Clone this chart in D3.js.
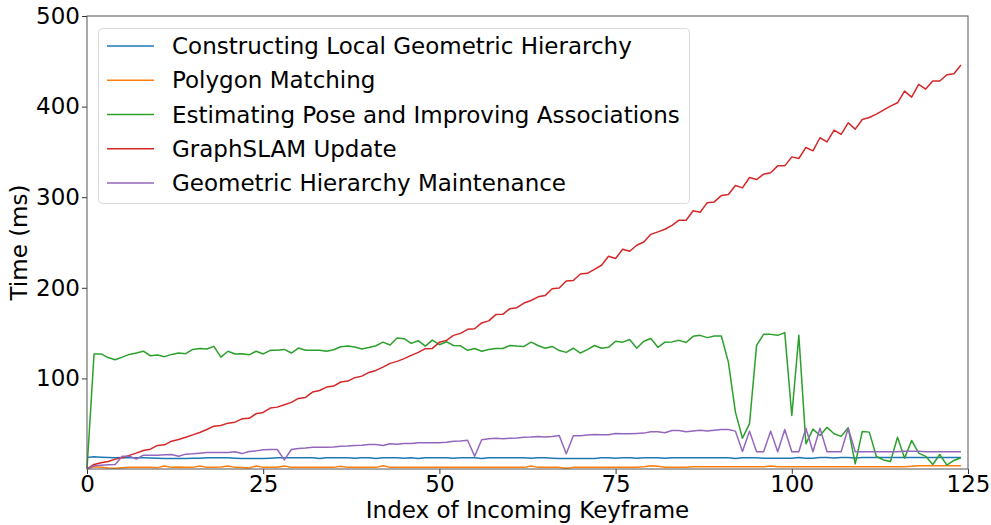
<!DOCTYPE html>
<html>
<head>
<meta charset="utf-8">
<script src="https://cdn.jsdelivr.net/npm/d3@7/dist/d3.min.js"></script>
<style>
  html, body { margin: 0; padding: 0; background: #fff; }
  svg { display: block; font-family: "DejaVu Sans", sans-serif; }
</style>
</head>
<body>
<svg id="chart" width="991" height="525"></svg>
<script>
// Per-keyframe timing (ms) for each stage of the pipeline
const seriesNames = [
  "Constructing Local Geometric Hierarchy",
  "Polygon Matching",
  "Estimating Pose and Improving Associations",
  "GraphSLAM Update",
  "Geometric Hierarchy Maintenance"
];
const seriesColors = ["#1f77b4", "#ff7f0e", "#2ca02c", "#d62728", "#9467bd"];

const constructing = [
  12.7, 13.4, 13.0, 12.7, 12.4, 12.7, 12.4, 12.4, 12.4, 12.2,
  12.0, 11.6, 11.6, 11.6, 11.6, 11.8, 12.0, 12.4, 12.4, 12.4,
  12.4, 12.0, 11.6, 11.6, 11.6, 11.6, 12.0, 12.4, 12.4, 12.4,
  12.4, 12.4, 12.4, 11.6, 12.4, 12.4, 12.4, 12.4, 12.0, 12.4,
  12.4, 11.6, 12.4, 12.4, 12.4, 11.8, 12.4, 11.6, 12.4, 12.4,
  12.4, 12.4, 11.8, 12.4, 12.4, 12.4, 11.6, 12.4, 12.4, 12.4,
  12.4, 12.4, 12.4, 12.0, 12.4, 12.4, 12.0, 11.5, 11.5, 11.5,
  11.5, 11.5, 11.5, 12.4, 12.4, 12.0, 12.4, 12.4, 12.0, 12.4,
  12.4, 12.4, 11.8, 12.4, 12.4, 12.4, 12.4, 12.4, 12.4, 12.4,
  12.4, 12.4, 11.6, 12.4, 12.4, 12.4, 12.0, 12.0, 12.0, 12.0,
  12.0, 12.6, 12.0, 12.0, 12.6, 12.6, 12.2, 12.6, 12.6, 12.2,
  12.6, 12.6, 12.6, 12.6, 12.6, 12.6, 12.6, 12.6, 12.6, 12.6,
  12.6, 12.6, 12.6, 12.6, 12.6
];

const polygonMatching = [
  0.5, 2.5, 2.0, 1.0, 0.8, 1.5, 1.8, 1.8, 1.8, 1.8,
  1.5, 3.4, 1.8, 2.2, 1.8, 1.8, 3.3, 1.8, 1.8, 2.2,
  3.4, 1.8, 1.6, 1.0, 3.3, 1.8, 1.8, 2.0, 3.2, 1.8,
  1.8, 1.8, 1.8, 2.0, 1.8, 1.8, 3.0, 1.8, 1.8, 1.8,
  1.8, 1.8, 3.6, 1.8, 1.8, 1.8, 1.8, 1.8, 1.8, 1.8,
  1.8, 1.8, 1.8, 1.8, 1.8, 1.8, 1.8, 1.8, 1.8, 1.8,
  1.8, 1.8, 1.8, 3.2, 1.8, 1.8, 1.8, 1.8, 0.8, 1.8,
  1.8, 1.8, 1.8, 1.8, 1.8, 1.8, 1.8, 1.8, 1.8, 2.6,
  3.7, 3.0, 2.0, 2.0, 2.0, 2.0, 2.6, 2.6, 2.6, 2.6,
  2.6, 2.6, 2.6, 2.6, 2.6, 2.6, 2.6, 3.2, 2.6, 2.6,
  2.6, 2.6, 2.6, 2.6, 2.6, 2.6, 2.6, 2.6, 2.6, 2.6,
  2.6, 2.6, 2.6, 2.6, 2.6, 2.6, 2.6, 3.0, 3.5, 3.5,
  3.5, 3.5, 3.5, 3.5, 3.5
];

const poseEstimation = [
  0.0, 127.0, 127.0, 123.0, 120.6, 123.5, 126.5, 128.0, 130.0, 125.0,
  125.8, 124.0, 126.5, 128.0, 127.3, 132.0, 133.0, 132.4, 135.4, 123.5,
  130.0, 127.0, 127.3, 126.0, 130.0, 127.0, 131.0, 131.0, 132.0, 128.0,
  133.5, 131.0, 131.0, 131.0, 130.0, 131.6, 135.0, 135.7, 134.6, 132.4,
  134.0, 136.0, 140.0, 136.8, 144.5, 143.8, 138.7, 141.6, 135.7, 142.3,
  137.2, 140.5, 136.3, 136.0, 131.0, 133.0, 130.0, 132.0, 133.0, 133.0,
  136.3, 135.7, 135.3, 140.0, 136.3, 133.3, 135.3, 130.7, 128.7, 133.3,
  128.0, 131.7, 136.3, 133.3, 134.3, 141.0, 140.0, 143.0, 133.3, 141.0,
  144.0, 134.3, 140.0, 140.3, 142.0, 139.6, 146.4, 147.5, 145.0, 146.8,
  146.8, 118.0, 62.8, 34.0, 50.0, 136.5, 148.6, 148.6, 147.5, 150.5,
  59.0, 147.5, 27.8, 44.0, 37.0, 46.0, 38.9, 36.0, 45.5, 5.7,
  41.4, 40.7, 13.8, 10.0, 8.3, 35.0, 12.0, 31.5, 17.5, 14.0,
  5.0, 16.0, 4.2, 9.4, 12.4
];

const graphSlam = [
  0.0, 5.0, 6.8, 8.3, 10.9, 12.3, 15.0, 17.5, 20.4, 21.9,
  26.0, 26.7, 30.7, 32.6, 35.0, 37.7, 40.3, 43.6, 47.3, 48.0,
  50.6, 51.7, 55.4, 56.0, 61.0, 62.4, 67.2, 68.3, 71.0, 73.5,
  77.9, 79.0, 84.9, 86.7, 90.4, 91.5, 96.0, 97.0, 100.8, 102.5,
  106.6, 108.8, 112.5, 116.6, 118.8, 121.8, 125.4, 128.7, 132.8, 133.1,
  139.8, 142.0, 147.5, 149.7, 154.2, 154.8, 161.2, 163.5, 170.4, 170.7,
  177.0, 178.0, 183.2, 186.0, 190.0, 191.4, 199.0, 199.8, 207.5, 208.0,
  215.3, 216.0, 220.4, 224.9, 234.8, 232.3, 242.5, 240.3, 247.0, 250.6,
  259.0, 261.7, 264.6, 269.0, 274.6, 274.6, 285.0, 283.4, 294.0, 294.8,
  301.8, 303.0, 313.0, 310.3, 321.7, 319.5, 325.4, 326.9, 334.6, 334.6,
  344.5, 342.7, 354.9, 351.2, 365.6, 361.1, 374.0, 369.3, 382.1, 375.1,
  385.8, 388.0, 391.7, 396.1, 400.5, 404.2, 417.1, 410.5, 424.5, 419.3,
  428.2, 428.2, 435.1, 436.2, 445.9
];

const maintenance = [
  0.0, 3.5, 4.2, 4.6, 5.0, 14.0, 14.0, 11.0, 15.3, 15.3,
  15.3, 15.6, 16.0, 14.0, 16.4, 16.8, 17.5, 18.2, 18.2, 18.2,
  18.2, 19.0, 17.0, 19.3, 20.0, 21.2, 21.5, 21.5, 10.0, 21.5,
  22.6, 23.2, 24.0, 24.0, 24.0, 24.4, 25.2, 25.5, 26.0, 26.3,
  27.0, 27.0, 26.0, 27.8, 27.4, 28.2, 28.2, 29.0, 29.0, 29.0,
  29.0, 29.6, 30.7, 31.0, 31.8, 14.0, 32.2, 33.3, 34.0, 33.3,
  34.0, 34.2, 35.0, 35.2, 36.0, 35.2, 36.0, 37.0, 16.8, 36.7,
  36.7, 37.4, 38.1, 37.8, 37.8, 39.2, 38.9, 38.9, 39.2, 39.6,
  41.0, 41.0, 40.0, 42.5, 42.5, 41.0, 42.0, 42.9, 42.0, 42.9,
  43.6, 43.6, 41.8, 19.3, 41.8, 19.0, 19.0, 41.8, 19.0, 43.6,
  19.0, 19.0, 45.0, 19.0, 45.0, 19.0, 19.0, 19.0, 45.0, 19.0,
  19.0, 19.0, 19.0, 19.0, 19.0, 19.0, 19.5, 19.5, 19.5, 19.0,
  19.0, 19.0, 19.0, 19.0, 19.0
];

const xTicks = [0, 25, 50, 75, 100, 125];
const yTicks = [100, 200, 300, 400, 500];

const series = [constructing, polygonMatching, poseEstimation, graphSlam, maintenance];

const svg = d3.select("#chart");
const margin = { left: 87, top: 16, right: 968, bottom: 469 };

const x = d3.scaleLinear().domain([0, 125]).range([margin.left, margin.right]);
const y = d3.scaleLinear().domain([0, 500]).range([margin.bottom, margin.top]);

const fontSize = 23;

// Axes
const xAxis = d3.axisBottom(x).tickValues(xTicks).tickSize(5).tickPadding(2);
const yAxis = d3.axisLeft(y).tickValues(yTicks).tickSize(5).tickPadding(2);

const gx = svg.append("g").attr("transform", `translate(0,${margin.bottom})`).call(xAxis);
const gy = svg.append("g").attr("transform", `translate(${margin.left},0)`).call(yAxis);
[gx, gy].forEach(g => {
  g.select(".domain").remove();
  g.selectAll(".tick line").attr("stroke", "#333").attr("stroke-width", 1);
  g.selectAll(".tick text")
    .attr("fill", "#000")
    .style("font-family", "'DejaVu Sans', sans-serif")
    .style("font-size", fontSize + "px");
});

// Lines
const line = d3.line()
  .x((d, i) => x(i))
  .y(d => y(d));

const plot = svg.append("g");
series.forEach((vals, k) => {
  plot.append("path")
    .datum(vals)
    .attr("fill", "none")
    .attr("stroke", seriesColors[k])
    .attr("stroke-width", 1.5)
    .attr("stroke-linejoin", "round")
    .attr("d", line);
});

// Plot frame
svg.append("rect")
  .attr("x", margin.left)
  .attr("y", margin.top)
  .attr("width", margin.right - margin.left)
  .attr("height", margin.bottom - margin.top)
  .attr("fill", "none")
  .attr("stroke", "#555")
  .attr("stroke-width", 1);

// Axis titles
svg.append("text")
  .attr("x", (margin.left + margin.right) / 2)
  .attr("y", 518)
  .attr("text-anchor", "middle")
  .style("font-size", fontSize + "px")
  .text("Index of Incoming Keyframe");

svg.append("text")
  .attr("transform", `translate(27,${(margin.top + margin.bottom) / 2}) rotate(-90)`)
  .attr("text-anchor", "middle")
  .style("font-size", fontSize + "px")
  .text("Time (ms)");

// Legend
const legend = svg.append("g");
legend.append("rect")
  .attr("x", 98.5)
  .attr("y", 28.5)
  .attr("width", 591)
  .attr("height", 175)
  .attr("rx", 4)
  .attr("fill", "#fff")
  .attr("fill-opacity", 0.8)
  .attr("stroke", "#d9d9d9")
  .attr("stroke-width", 1);

const rowY = d3.scaleLinear().domain([0, 4]).range([46, 183]);
seriesNames.forEach((name, k) => {
  const yy = rowY(k);
  legend.append("line")
    .attr("x1", 107).attr("x2", 154)
    .attr("y1", yy).attr("y2", yy)
    .attr("stroke", seriesColors[k])
    .attr("stroke-width", 1.5);
  legend.append("text")
    .attr("x", 172)
    .attr("y", yy)
    .attr("dy", "0.35em")
    .style("font-size", fontSize + "px")
    .text(name);
});
</script>
</body>
</html>
